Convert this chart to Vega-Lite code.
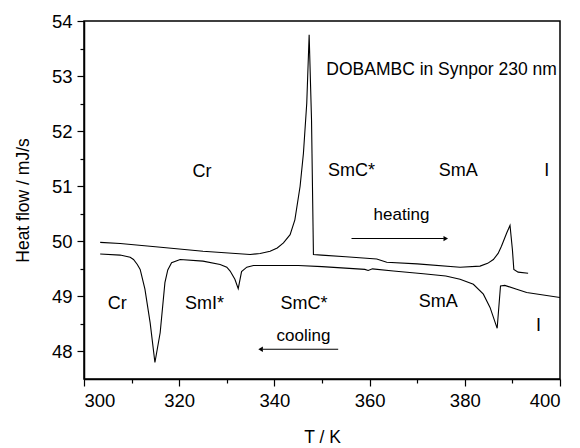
{
  "$schema": "https://vega.github.io/schema/vega-lite/v6.json",
  "autosize": "none",
  "width": 476,
  "height": 358,
  "padding": {"left": 84, "top": 21, "right": 20, "bottom": 69},
  "background": "white",
  "config": {
    "view": {"stroke": "black", "strokeWidth": 1.5},
    "font": "Liberation Sans",
    "axis": {"domainColor": "black", "domainWidth": 1.5, "tickColor": "black", "tickWidth": 1.2, "labelColor": "black", "titleColor": "black", "grid": false, "labelFont": "Liberation Sans", "titleFont": "Liberation Sans", "titleFontWeight": "normal"}
  },
  "datasets": {
    "curves": [
      {"s": "heating", "T": 303.4, "H": 49.98},
      {"s": "heating", "T": 307.6, "H": 49.96},
      {"s": "heating", "T": 315.0, "H": 49.90},
      {"s": "heating", "T": 325.0, "H": 49.82},
      {"s": "heating", "T": 334.9, "H": 49.76},
      {"s": "heating", "T": 337.0, "H": 49.78},
      {"s": "heating", "T": 339.1, "H": 49.82},
      {"s": "heating", "T": 340.6, "H": 49.88},
      {"s": "heating", "T": 341.9, "H": 49.97},
      {"s": "heating", "T": 343.3, "H": 50.12},
      {"s": "heating", "T": 344.3, "H": 50.39},
      {"s": "heating", "T": 345.4, "H": 51.0},
      {"s": "heating", "T": 346.1, "H": 51.6},
      {"s": "heating", "T": 346.8, "H": 52.51},
      {"s": "heating", "T": 347.3, "H": 53.75},
      {"s": "heating", "T": 347.8, "H": 52.2},
      {"s": "heating", "T": 348.2, "H": 49.76},
      {"s": "heating", "T": 349.9, "H": 49.75},
      {"s": "heating", "T": 355.0, "H": 49.72},
      {"s": "heating", "T": 361.5, "H": 49.68},
      {"s": "heating", "T": 363.6, "H": 49.62},
      {"s": "heating", "T": 370.0, "H": 49.59},
      {"s": "heating", "T": 379.0, "H": 49.53},
      {"s": "heating", "T": 383.2, "H": 49.55},
      {"s": "heating", "T": 384.8, "H": 49.60},
      {"s": "heating", "T": 386.0, "H": 49.67},
      {"s": "heating", "T": 387.0, "H": 49.78},
      {"s": "heating", "T": 387.7, "H": 49.91},
      {"s": "heating", "T": 388.8, "H": 50.15},
      {"s": "heating", "T": 389.5, "H": 50.29},
      {"s": "heating", "T": 390.0, "H": 49.85},
      {"s": "heating", "T": 390.3, "H": 49.49},
      {"s": "heating", "T": 391.2, "H": 49.44},
      {"s": "heating", "T": 393.3, "H": 49.42},
      {"s": "cooling", "T": 303.4, "H": 49.77},
      {"s": "cooling", "T": 307.6, "H": 49.75},
      {"s": "cooling", "T": 309.7, "H": 49.71},
      {"s": "cooling", "T": 310.4, "H": 49.67},
      {"s": "cooling", "T": 311.2, "H": 49.58},
      {"s": "cooling", "T": 311.8, "H": 49.49},
      {"s": "cooling", "T": 312.8, "H": 49.13},
      {"s": "cooling", "T": 313.9, "H": 48.52},
      {"s": "cooling", "T": 314.9, "H": 47.80},
      {"s": "cooling", "T": 316.0, "H": 48.34},
      {"s": "cooling", "T": 317.0, "H": 49.25},
      {"s": "cooling", "T": 317.6, "H": 49.48},
      {"s": "cooling", "T": 318.4, "H": 49.61},
      {"s": "cooling", "T": 320.2, "H": 49.67},
      {"s": "cooling", "T": 325.0, "H": 49.64},
      {"s": "cooling", "T": 328.6, "H": 49.58},
      {"s": "cooling", "T": 330.0, "H": 49.53},
      {"s": "cooling", "T": 330.7, "H": 49.46},
      {"s": "cooling", "T": 331.7, "H": 49.31},
      {"s": "cooling", "T": 332.4, "H": 49.14},
      {"s": "cooling", "T": 333.1, "H": 49.45},
      {"s": "cooling", "T": 334.2, "H": 49.53},
      {"s": "cooling", "T": 335.6, "H": 49.56},
      {"s": "cooling", "T": 345.0, "H": 49.56},
      {"s": "cooling", "T": 350.0, "H": 49.54},
      {"s": "cooling", "T": 359.0, "H": 49.49},
      {"s": "cooling", "T": 359.7, "H": 49.47},
      {"s": "cooling", "T": 360.6, "H": 49.50},
      {"s": "cooling", "T": 365.0, "H": 49.46},
      {"s": "cooling", "T": 371.3, "H": 49.41},
      {"s": "cooling", "T": 376.0, "H": 49.37},
      {"s": "cooling", "T": 379.0, "H": 49.31},
      {"s": "cooling", "T": 381.8, "H": 49.22},
      {"s": "cooling", "T": 383.9, "H": 49.04},
      {"s": "cooling", "T": 385.3, "H": 48.80},
      {"s": "cooling", "T": 386.8, "H": 48.42},
      {"s": "cooling", "T": 387.5, "H": 49.19},
      {"s": "cooling", "T": 388.4, "H": 49.20},
      {"s": "cooling", "T": 390.9, "H": 49.13},
      {"s": "cooling", "T": 393.0, "H": 49.07},
      {"s": "cooling", "T": 400.0, "H": 48.98}
    ],
    "arrows": [
      {"a": "heating", "T": 356.2, "H": 50.05},
      {"a": "heating", "T": 375.6, "H": 50.05},
      {"a": "cooling", "T": 337.6, "H": 48.04},
      {"a": "cooling", "T": 353.4, "H": 48.04}
    ],
    "heads": [
      {"a": "heating", "T": 376.0, "H": 50.05, "shape": "triangle-right"},
      {"a": "cooling", "T": 337.1, "H": 48.04, "shape": "triangle-left"}
    ],
    "labels": [
      {"label": "Cr", "T": 324.8, "H": 51.25},
      {"label": "SmC*", "T": 356.2, "H": 51.27},
      {"label": "SmA", "T": 378.6, "H": 51.27},
      {"label": "I", "T": 397.2, "H": 51.27},
      {"label": "Cr", "T": 307.0, "H": 48.86},
      {"label": "SmI*", "T": 325.3, "H": 48.86},
      {"label": "SmC*", "T": 346.2, "H": 48.86},
      {"label": "SmA", "T": 374.4, "H": 48.89},
      {"label": "I", "T": 395.5, "H": 48.46}
    ],
    "words": [
      {"label": "heating", "T": 366.7, "H": 50.47},
      {"label": "cooling", "T": 346.1, "H": 48.28}
    ],
    "note": [
      {"label": "DOBAMBC in Synpor 230 nm", "T": 350.9, "H": 53.11}
    ]
  },
  "encoding": {
    "x": {"field": "T", "type": "quantitative", "scale": {"domain": [300, 400], "nice": false, "zero": false},
      "axis": {"title": "T / K", "values": [300, 310, 320, 330, 340, 350, 360, 370, 380, 390, 400],
        "labelExpr": "datum.value % 20 === 0 ? format(datum.value, 'd') : ''",
        "tickSize": {"condition": {"test": "datum.value % 20 === 0", "value": 7}, "value": 4},
        "labelFontSize": 18.5, "labelPadding": 5, "titleFontSize": 17.5, "titlePadding": 19}},
    "y": {"field": "H", "type": "quantitative", "scale": {"domain": [47.5, 54], "nice": false, "zero": false},
      "axis": {"title": "Heat flow / mJ/s", "values": [48, 48.5, 49, 49.5, 50, 50.5, 51, 51.5, 52, 52.5, 53, 53.5, 54],
        "labelExpr": "datum.value % 1 === 0 ? format(datum.value, 'd') : ''",
        "tickSize": {"condition": {"test": "datum.value % 1 === 0", "value": 7}, "value": 4},
        "labelFontSize": 18.5, "labelPadding": 5, "titleFontSize": 17.5, "titlePadding": 19}}
  },
  "layer": [
    {"data": {"name": "curves"}, "mark": {"type": "line", "color": "black", "strokeWidth": 1.1, "clip": true},
      "encoding": {"detail": {"field": "s"}}},
    {"data": {"name": "arrows"}, "mark": {"type": "line", "color": "black", "strokeWidth": 1.1},
      "encoding": {"detail": {"field": "a"}}},
    {"data": {"name": "heads"}, "mark": {"type": "point", "filled": true, "color": "black", "size": 28, "opacity": 1},
      "encoding": {"shape": {"field": "shape", "type": "nominal", "scale": null, "legend": null}}},
    {"data": {"name": "labels"}, "mark": {"type": "text", "fontSize": 18, "align": "center", "baseline": "middle", "color": "black"},
      "encoding": {"text": {"field": "label"}}},
    {"data": {"name": "words"}, "mark": {"type": "text", "fontSize": 17, "align": "center", "baseline": "middle", "color": "black"},
      "encoding": {"text": {"field": "label"}}},
    {"data": {"name": "note"}, "mark": {"type": "text", "fontSize": 17.5, "align": "left", "baseline": "middle", "color": "black"},
      "encoding": {"text": {"field": "label"}}}
  ]
}
